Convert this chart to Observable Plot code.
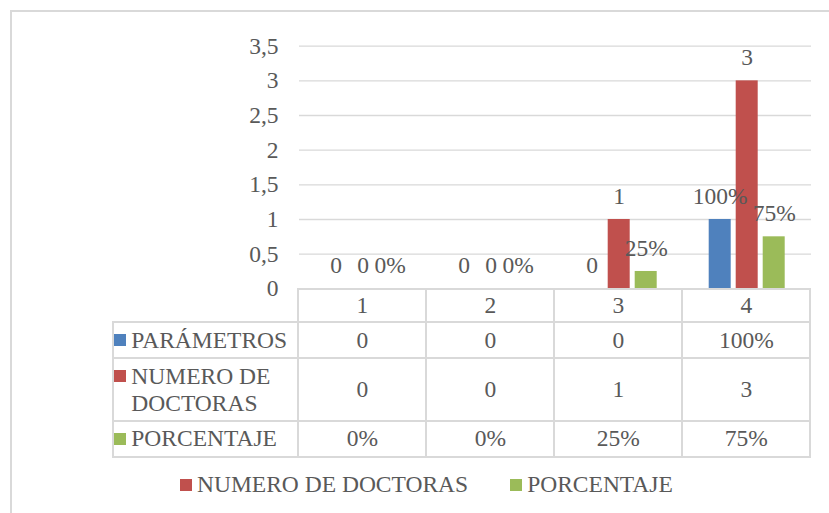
<!DOCTYPE html>
<html><head><meta charset="utf-8">
<script src="https://cdn.jsdelivr.net/npm/d3@7"></script>
<script src="https://cdn.jsdelivr.net/npm/@observablehq/plot@0.6"></script>
<style>
html,body{margin:0;padding:0;overflow:hidden;background:#fff;font-family:'Liberation Serif',serif}
#wrap{position:relative;width:829px;height:513px;overflow:hidden;font-family:'Liberation Serif',serif;color:#595959;font-size:23.5px}
#wrap div{font-family:'Liberation Serif',serif}
#chart{position:absolute;left:0;top:0}
#frame{position:absolute;left:10px;top:10px;width:900px;height:600px;border:2px solid #d9d9d9;box-sizing:border-box;pointer-events:none}
.cell{position:absolute;box-sizing:border-box;border:2px solid #d9d9d9;display:flex;align-items:center;justify-content:center;line-height:27px}
.lab{justify-content:flex-start;padding-left:0}
.lab .in{display:flex;align-items:flex-start}
.sq{width:12px;height:12px;margin-top:7.5px;margin-right:5px;flex:none}
#legend{position:absolute;left:180px;top:471px;display:flex;align-items:center;line-height:27px}
#legend .item{display:flex;align-items:center;margin-right:42px}
#legend .sq{margin-top:0}
</style></head>
<body><div id="wrap"><div id="chart"></div><div id="table"></div><div id="legend"></div><div id="frame"></div></div>
<script>
const categories = ["1","2","3","4"];
const seriesNames = ["PARÁMETROS","NUMERO DE DOCTORAS","PORCENTAJE"];
const parametros = [0,0,0,1];
const parametrosLabels = ["0","0","0","100%"];
const doctoras = [0,0,1,3];
const doctorasLabels = ["0","0","1","3"];
const porcentaje = [0,0,0.25,0.75];
const porcentajeLabels = ["0%","0%","25%","75%"];
const yTicks = [0,0.5,1,1.5,2,2.5,3,3.5];
const yTickLabels = ["0","0,5","1","1,5","2","2,5","3","3,5"];
const colors = ["#4F81BD","#C0504D","#9BBB59"];
const legendSeries = ["NUMERO DE DOCTORAS","PORCENTAJE"];

const values = [parametros, doctoras, porcentaje];
const labels = [parametrosLabels, doctorasLabels, porcentajeLabels];
const rows = [];
categories.forEach((c,i)=>seriesNames.forEach((s,k)=>rows.push({cat:c, s, v:values[k][i], label:labels[k][i]})));

const FONT = "'Liberation Serif', serif";
const plot = Plot.plot({
  width:829, height:300,
  marginLeft:298.3, marginRight:18.3, marginTop:45.7, marginBottom:11.7,
  style:{fontFamily:FONT, fontSize:"23.5px", color:"#595959", background:"transparent", overflow:"visible"},
  fx:{domain:categories, padding:0, axis:null},
  x:{domain:seriesNames, paddingInner:0.196, paddingOuter:0.884, axis:null},
  y:{domain:[0,3.5], axis:null},
  color:{domain:seriesNames, range:colors},
  marks:[
    Plot.gridY(yTicks,{stroke:"#d9d9d9", strokeOpacity:1, strokeWidth:1.3}),
    Plot.axisY(yTicks,{tickSize:0, tickPadding:21, tickFormat:d=>yTickLabels[yTicks.indexOf(d)], fontSize:23.5, fontFamily:FONT, fill:"#595959", label:null}),
    Plot.barY(rows,{fx:"cat", x:"s", y:"v", fill:"s", inset:0}),
    Plot.text(rows,{fx:"cat", x:"s", y:"v", text:"label", dy:-23, fill:"#595959", fontSize:23.5, fontFamily:FONT})
  ]
});
plot.setAttribute("font-family", "Liberation Serif, serif");
plot.style.fontFamily = FONT;
document.getElementById("chart").appendChild(plot);

// table aligned with the fx scale
const fx = plot.scale("fx");
const x0 = fx.range[0], bw = fx.bandwidth ?? ((fx.range[1]-fx.range[0])/categories.length);
const colX = [113.3, ...categories.map((c,i)=>x0 + i*bw), x0 + categories.length*bw];
const rowY = [289.3, 322.3, 358.3, 421.3, 456.7];
const table = document.getElementById("table");
function cell(ci, ri, html, cls){
  const d = document.createElement("div");
  d.className = "cell" + (cls?(" "+cls):"");
  d.style.left = (colX[ci]-1)+"px";
  d.style.top = (rowY[ri]-1)+"px";
  d.style.width = (colX[ci+1]-colX[ci]+2)+"px";
  d.style.height = (rowY[ri+1]-rowY[ri]+2)+"px";
  d.innerHTML = html;
  table.appendChild(d);
}
categories.forEach((c,i)=>cell(i+1,0,c));
seriesNames.forEach((s,k)=>{
  cell(0,k+1,`<div class="in"><div class="sq" style="background:${colors[k]}"></div><div>${s}</div></div>`,"lab");
  categories.forEach((c,i)=>cell(i+1,k+1,labels[k][i]));
});

// bottom legend
const leg = document.getElementById("legend");
legendSeries.forEach(s=>{
  const k = seriesNames.indexOf(s);
  const it = document.createElement("div");
  it.className = "item";
  it.innerHTML = `<div class="sq" style="background:${colors[k]}"></div><div>${s}</div>`;
  leg.appendChild(it);
});
</script></body></html>
